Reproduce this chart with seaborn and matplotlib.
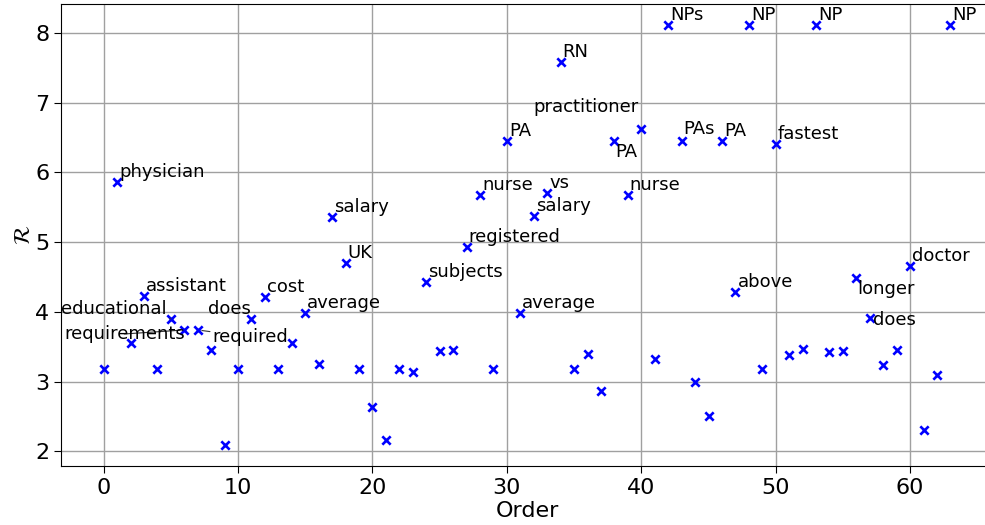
import matplotlib
matplotlib.use("Agg")
import matplotlib.pyplot as plt
import seaborn as sns
import pandas as pd

# ---- data ----
order = list(range(64))
r_values = [3.18, 5.86, 3.55, 4.22, 3.18, 3.90, 3.74, 3.74, 3.46, 2.09,
            3.18, 3.90, 4.21, 3.18, 3.55, 3.99, 3.25, 5.36, 4.70, 3.18,
            2.63, 2.16, 3.18, 3.14, 4.43, 3.44, 3.46, 4.93, 5.68, 3.18,
            6.45, 3.99, 5.37, 5.70, 7.58, 3.18, 3.39, 2.86, 6.45, 5.68,
            6.62, 3.32, 8.11, 6.45, 3.00, 2.51, 6.45, 4.28, 8.11, 3.18,
            6.41, 3.38, 3.47, 8.11, 3.42, 3.44, 4.48, 3.91, 3.24, 3.46,
            4.65, 2.30, 3.09, 8.11]
label_index = [1, 3, 5, 6, 7, 11, 12, 15, 17, 18, 24, 27, 28, 30, 31, 32,
               33, 34, 38, 39, 40, 42, 43, 46, 47, 48, 50, 53, 56, 57, 60, 63]
label_words = ["physician", "assistant", "educational", "requirements",
               "required", "does", "cost", "average", "salary", "UK",
               "subjects", "registered", "nurse", "PA", "average", "salary",
               "vs", "RN", "PA", "nurse", "practitioner", "NPs", "PAs", "PA",
               "above", "NP", "fastest", "NP", "longer", "does", "doctor", "NP"]

# ---- layout of labels (pixel offsets, alignment, connector) ----
default_place = ((2, 5), "left", False)
special_place = {
    5: ((-4, 5), "right", True),
    6: ((-60, -9), "center", True),
    7: ((15, -12), "left", True),
    11: ((-1, 5), "right", False),
    38: ((1, -16), "left", False),
    40: ((-3, 17), "right", False),
    43: ((2, 7), "left", False),
    56: ((1, -16), "left", False),
    57: ((3, -7), "left", False),
}

df = pd.DataFrame({"Order": order, "R": r_values})

fig = plt.figure(figsize=(9.85, 5.25), dpi=100)
ax = fig.add_axes([61.3 / 985, 59 / 525, 931.5 / 985, 462.5 / 525])

sns.scatterplot(data=df, x="Order", y="R", marker="x", color="blue",
                s=36, linewidth=1.9, ax=ax, zorder=3)

ax.grid(True, color="#a0a0a0", linewidth=1.0)
ax.set_axisbelow(True)
ax.set_xlim(-3.15, 66.15)
ax.set_ylim(1.79, 8.42)
ax.set_xticks([0, 10, 20, 30, 40, 50, 60])
ax.set_yticks([2, 3, 4, 5, 6, 7, 8])
ax.tick_params(labelsize=16, length=5)
ax.set_xlabel("Order", fontsize=16, labelpad=2)
ax.set_ylabel(r"$\mathcal{R}$", fontsize=16, labelpad=1)

for idx, word in zip(label_index, label_words):
    (dx, dy), ha, conn = special_place.get(idx, default_place)
    kw = {}
    if conn:
        kw["arrowprops"] = dict(arrowstyle="-", color="#333333", lw=0.8,
                                shrinkA=0, shrinkB=3)
    ax.annotate(word, xy=(order[idx], r_values[idx]), xytext=(dx, dy),
                textcoords="offset pixels", ha=ha, va="baseline",
                fontsize=13, zorder=4, **kw)

fig.savefig("out.png", dpi=100)
